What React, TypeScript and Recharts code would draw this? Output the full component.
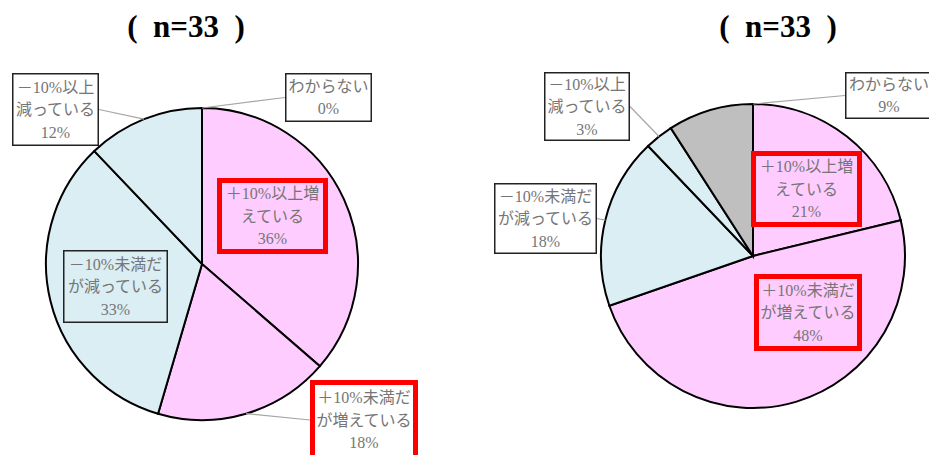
import React from 'react';
import { PieChart, Pie, Cell } from 'recharts';

const CATEGORIES = ['＋10%以上増えている', '＋10%未満だが増えている', '－10%未満だが減っている', '－10%以上減っている', 'わからない'];
const LABEL_LINES = [
  ['＋10%以上増', 'えている'],
  ['＋10%未満だ', 'が増えている'],
  ['－10%未満だ', 'が減っている'],
  ['－10%以上', '減っている'],
  ['わからない'],
];
const LEFT_VALUES = [36, 18, 33, 12, 0];
const RIGHT_VALUES = [21, 48, 18, 3, 9];
const TITLES = ['(\u2002n=33\u2002)', '(\u2002n=33\u2002)'];

const COLORS = ['#FFCCFF', '#FFCCFF', '#DAEEF3', '#DAEEF3', '#BFBFBF'];
const HIGHLIGHT = [true, true, false, false, false];

type Box = { x: number; y: number; w: number; h: number; leader: boolean; anchor?: 'mid' | 'end'; fill?: string };

const LEFT_BOXES: Box[] = [
  { x: 217, y: 178, w: 111, h: 76, leader: false, fill: 'none' },
  { x: 310, y: 380, w: 108, h: 80, leader: true, fill: '#fff' },
  { x: 63, y: 250, w: 105, h: 73, leader: false, fill: 'none' },
  { x: 12, y: 73, w: 87, h: 73, leader: true, fill: '#fff' },
  { x: 285, y: 73, w: 87, h: 49, leader: true, anchor: 'end', fill: '#fff' },
];
const RIGHT_BOXES: Box[] = [
  { x: 751, y: 151, w: 111, h: 76, leader: false, fill: 'none' },
  { x: 754, y: 274, w: 108, h: 77, leader: false, fill: 'none' },
  { x: 494, y: 183, w: 103, h: 71, leader: true, fill: '#fff' },
  { x: 544, y: 72, w: 86, h: 69, leader: true, fill: '#fff' },
  { x: 845, y: 72, w: 88, h: 47, leader: true, anchor: 'end', fill: '#fff' },
];

const RAD = Math.PI / 180;
const FONT = "'Liberation Serif', 'Noto Sans CJK JP', serif";
const MARGIN = { top: 0, right: 0, bottom: 0, left: 0 };

const makeData = (values: number[]) =>
  CATEGORIES.map((name, i) => ({ name, value: values[i], lines: LABEL_LINES[i] }));

const LEFT_DATA = makeData(LEFT_VALUES);
const RIGHT_DATA = makeData(RIGHT_VALUES);

const makeLabel = (boxes: Box[]) => (props: any) => {
  const { index, cx, cy, outerRadius, midAngle, endAngle, payload, value } = props;
  const b = boxes[index];
  const hl = HIGHLIGHT[index];
  const lines: string[] = [...(payload?.lines ?? LABEL_LINES[index]), `${value}%`];
  const bcx = b.x + b.w / 2;
  const bcy = b.y + b.h / 2;
  const ang = b.anchor === 'end' ? endAngle : midAngle;
  const px = cx + outerRadius * Math.cos(-ang * RAD);
  const py = cy + outerRadius * Math.sin(-ang * RAD);
  const lx = bcx < cx ? b.x + b.w : b.x;
  const sw = hl ? 5 : 1.5;
  const lh = 22.5;
  const startY = bcy - ((lines.length - 1) * lh) / 2;
  return (
    <g key={`lab-${index}`}>
      {b.leader && <line x1={px} y1={py} x2={lx} y2={bcy} stroke="#a6a6a6" strokeWidth={1.2} />}
      <rect
        x={b.x + sw / 2}
        y={b.y + sw / 2}
        width={b.w - sw}
        height={b.h - sw}
        fill={b.fill}
        stroke={hl ? '#FF0000' : '#222'}
        strokeWidth={sw}
      />
      {lines.map((t, k) => (
        <text
          key={k}
          x={bcx}
          y={startY + k * lh}
          dy="0.35em"
          textAnchor="middle"
          fontFamily={FONT}
          fontSize={16}
          fill="#767676"
        >
          {t}
        </text>
      ))}
    </g>
  );
};

export default function App() {
  return (
    <div style={{ position: 'absolute', left: 0, top: 0, width: 929, height: 455, background: '#fff' }}>
      <PieChart width={929} height={455} margin={MARGIN}>
        <Pie
          data={LEFT_DATA}
          dataKey="value"
          nameKey="name"
          cx={202}
          cy={264}
          outerRadius={156}
          startAngle={90}
          endAngle={-270}
          stroke="#000"
          strokeWidth={2}
          isAnimationActive={false}
          labelLine={false}
          label={makeLabel(LEFT_BOXES)}
        >
          {LEFT_DATA.map((d, i) => (
            <Cell key={i} fill={COLORS[i]} />
          ))}
        </Pie>
        <Pie
          data={RIGHT_DATA}
          dataKey="value"
          nameKey="name"
          cx={753}
          cy={256}
          outerRadius={152}
          startAngle={90}
          endAngle={-270}
          stroke="#000"
          strokeWidth={2}
          isAnimationActive={false}
          labelLine={false}
          label={makeLabel(RIGHT_BOXES)}
        >
          {RIGHT_DATA.map((d, i) => (
            <Cell key={i} fill={COLORS[i]} />
          ))}
        </Pie>
      </PieChart>
      {TITLES.map((t, i) => (
        <div
          key={i}
          style={{
            position: 'absolute',
            left: i === 0 ? 86 : 678,
            width: 200,
            top: 7,
            textAlign: 'center',
            fontFamily: "'Liberation Serif', serif",
            fontWeight: 'bold',
            fontSize: 31,
            lineHeight: '40px',
            color: '#000',
          }}
        >
          {t}
        </div>
      ))}
    </div>
  );
}
